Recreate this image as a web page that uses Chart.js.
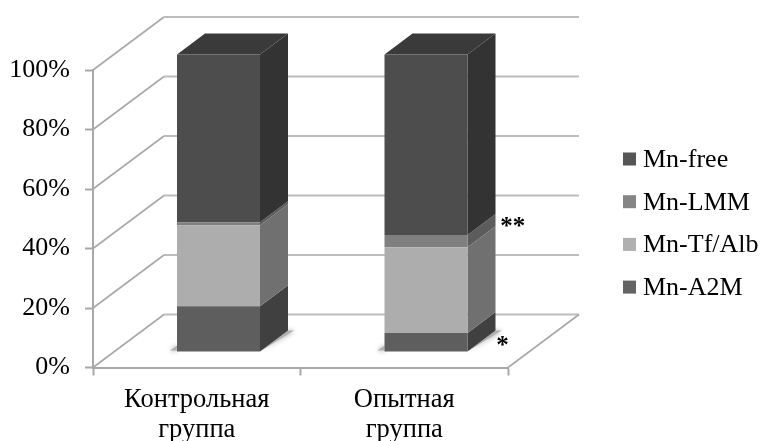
<!DOCTYPE html>
<html lang="ru">
<head>
    <meta charset="UTF-8">
    <title>Mn</title>
    <style>
        html, body { margin: 0; background: #fff; }
        canvas { display: block; }
    </style>
</head>
<body>
    <canvas id="chart" width="762" height="441"></canvas>
</body>
<script src="https://cdn.jsdelivr.net/npm/chart.js"></script>
<script>
    const groups = [['Контрольная', 'группа'], ['Опытная', 'группа']];
    const a2m = [15.4, 6.4];
    const tfAlb = [27.2, 28.8];
    const lmm = [1.0, 4.1];
    const free = [56.4, 60.7];
    const yTicks = [0, 20, 40, 60, 80, 100];

    const fontFamily = '"Liberation Serif", "Times New Roman", serif';
    const gridColor = '#bdbdbd';
    const axisColor = '#a8a8a8';

    // depth of the box floor, and where the bars stand on it
    const floorDepth = { x: 71, y: -53 };
    const barShift = { x: 21.75, y: -15.5 };
    const barDepth = { x: 28, y: -21 };

    const series = [
        { label: 'Mn-A2M', data: a2m, front: '#5e5e5e', side: '#404040', swatch: '#646464' },
        { label: 'Mn-Tf/Alb', data: tfAlb, front: '#adadad', side: '#707070', swatch: '#b0b0b0' },
        { label: 'Mn-LMM', data: lmm, front: '#7f7f7f', side: '#5c5c5c', swatch: '#858585' },
        { label: 'Mn-free', data: free, front: '#4d4d4d', side: '#333333', swatch: '#555555', top: '#3a3a3a' }
    ];

    function polygon(ctx, points, color){
        ctx.fillStyle = color;
        ctx.beginPath();
        points.forEach((p, i) => i ? ctx.lineTo(p[0], p[1]) : ctx.moveTo(p[0], p[1]));
        ctx.closePath();
        ctx.fill();
    }

    function line(ctx, x1, y1, x2, y2, color, width){
        ctx.strokeStyle = color;
        ctx.lineWidth = width;
        ctx.beginPath();
        ctx.moveTo(x1, y1);
        ctx.lineTo(x2, y2);
        ctx.stroke();
    }

    const box3d = {
        id: 'box3d',
        beforeDatasetsDraw(chart){
            const ctx = chart.ctx;
            const area = chart.chartArea;
            const yScale = chart.scales.y;
            ctx.save();
            // side wall and back wall lines for every tick
            for(let tick of yTicks){
                const y = yScale.getPixelForValue(tick);
                const backY = y + floorDepth.y;
                line(ctx, area.left, y, area.left + floorDepth.x, backY, axisColor, 1.6);
                line(ctx, area.left + floorDepth.x, backY, area.right + floorDepth.x, backY, gridColor, 2);
            }
            line(ctx, area.right, area.bottom, area.right + floorDepth.x, area.bottom + floorDepth.y, axisColor, 1.6);
            ctx.restore();

            // the bars and their boxes stand inside the floor, not on its front edge
            ctx.save();
            ctx.translate(barShift.x, barShift.y);
            chart.getDatasetMeta(0).data.forEach((bar) => {
                const left = bar.x - bar.width / 2;
                const right = bar.x + bar.width / 2;
                // soft shadow on the floor, to the left and behind the box
                ctx.save();
                ctx.shadowColor = 'rgba(0, 0, 0, 0.45)';
                ctx.shadowBlur = 5;
                polygon(ctx, [
                    [right, bar.base],
                    [right + barDepth.x + 6, bar.base + barDepth.y],
                    [right + barDepth.x, bar.base + barDepth.y]
                ], '#b0b0b0');
                polygon(ctx, [
                    [left - 7, bar.base - 1],
                    [left, bar.base - 6],
                    [left, bar.base - 1]
                ], '#b0b0b0');
                ctx.restore();
            });
            series.forEach((s, i) => {
                chart.getDatasetMeta(i).data.forEach((bar) => {
                    const right = bar.x + bar.width / 2;
                    const left = bar.x - bar.width / 2;
                    polygon(ctx, [
                        [right, bar.y],
                        [right + barDepth.x, bar.y + barDepth.y],
                        [right + barDepth.x, bar.base + barDepth.y],
                        [right, bar.base]
                    ], s.side);
                    if(s.top){
                        polygon(ctx, [
                            [left, bar.y],
                            [left + barDepth.x, bar.y + barDepth.y],
                            [right + barDepth.x, bar.y + barDepth.y],
                            [right, bar.y]
                        ], s.top);
                    }
                });
            });
        },
        afterDatasetsDraw(chart){
            const ctx = chart.ctx;
            ctx.restore();

            // significance marks next to the second bar
            const lmmBar = chart.getDatasetMeta(2).data[1];
            const a2mBar = chart.getDatasetMeta(0).data[1];
            ctx.save();
            ctx.fillStyle = '#000';
            ctx.font = 'bold 25px ' + fontFamily;
            ctx.textAlign = 'left';
            ctx.textBaseline = 'middle';
            ctx.fillText('**', lmmBar.x + 96, lmmBar.y - 23);
            ctx.fillText('*', a2mBar.x + 92, a2mBar.y - 2);
            ctx.restore();

            // legend, last series first
            ctx.save();
            ctx.font = '26px ' + fontFamily;
            ctx.textAlign = 'left';
            ctx.textBaseline = 'middle';
            series.slice().reverse().forEach((s, i) => {
                const y = 159 + i * 42.7;
                ctx.fillStyle = s.swatch;
                ctx.fillRect(623, y - 6.5, 13, 13);
                ctx.fillStyle = '#000';
                ctx.fillText(s.label, 643, y + 1);
            });
            ctx.restore();
        }
    };

    new Chart(document.getElementById('chart'), {
        type: 'bar',
        data: {
            labels: groups,
            datasets: series.map((s) => ({
                label: s.label,
                data: s.data,
                backgroundColor: s.front,
                borderWidth: 0,
                categoryPercentage: 0.4,
                barPercentage: 1,
                clip: false
            }))
        },
        plugins: [box3d],
        options: {
            responsive: false,
            animation: false,
            layout: { padding: { top: 70, right: 254, left: 0, bottom: 0 } },
            plugins: {
                legend: { display: false },
                tooltip: { enabled: false }
            },
            scales: {
                x: {
                    stacked: true,
                    afterFit(scale){ scale.height = 73.5; },
                    border: { color: axisColor, width: 2 },
                    grid: { drawOnChartArea: false, tickColor: axisColor, tickLength: 8, tickWidth: 2 },
                    ticks: {
                        color: '#000',
                        padding: 9,
                        maxRotation: 0,
                        font: { family: fontFamily, size: 26.5, lineHeight: 1.15 }
                    }
                },
                y: {
                    stacked: true,
                    min: 0,
                    max: 100,
                    afterFit(scale){ scale.width = 93; },
                    border: { color: axisColor, width: 2 },
                    grid: { drawOnChartArea: false, tickColor: axisColor, tickLength: 8, tickWidth: 2 },
                    ticks: {
                        stepSize: 20,
                        color: '#000',
                        padding: 15,
                        font: { family: fontFamily, size: 26 },
                        callback: (value) => value + '%'
                    }
                }
            }
        }
    });
</script>
</html>
